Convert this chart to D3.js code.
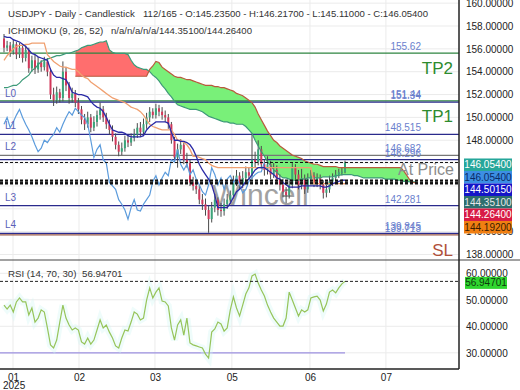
<!DOCTYPE html>
<html>
<head>
<meta charset="utf-8">
<script src="https://cdn.jsdelivr.net/npm/d3@7"></script>
<style>
  body { margin: 0; background: #fff; }
  svg { display: block; font-family: "Liberation Sans", Arial, sans-serif; }
</style>
</head>
<body>
<div id="chart"></div>
<script>
// ---- data ----
const opens = [156.9,156.1,156.3,155.7,156.4,155.5,156.1,155.2,155.9,154.3,
  155.0,154.2,154.8,154.4,154.9,154.0,152.0,151.5,152.2,151.7,
  154.0,152.8,151.7,152.1,151.3,150.7,149.8,149.4,150.0,149.1,
  149.6,150.2,150.7,150.0,149.4,148.9,148.3,147.6,147.0,147.3,
  148.0,147.8,148.2,148.5,149.1,148.7,149.4,150.0,150.5,150.2,
  150.8,150.5,150.2,150.0,149.4,148.0,146.5,147.2,147.6,146.3,
  146.0,144.3,144.0,143.7,142.8,142.4,141.9,141.1,142.1,142.8,
  141.9,141.8,142.4,142.8,143.2,144.4,144.9,144.1,144.7,145.2,
  144.9,146.3,146.1,147.2,145.9,145.4,145.9,145.0,145.4,144.6,
  144.1,143.5,143.2,144.1,145.6,145.0,144.1,144.7,143.7,144.6,
  144.9,144.3,144.7,144.1,143.4,143.7,144.4,144.7,145.0,145.2,
  145.235];
const highs = [157.3,156.7,156.6,156.8,156.6,156.5,156.4,156.3,156.1,155.4,
  155.5,155.3,155.0,155.3,155.2,154.3,152.6,152.7,152.5,154.9,
  154.4,153.1,152.6,152.4,151.7,151.0,150.3,150.5,150.3,150.1,
  150.6,151.3,151.0,150.4,149.8,149.3,148.6,147.9,147.8,148.4,
  148.5,148.6,149.0,149.5,149.6,149.9,150.4,150.9,150.8,151.2,
  151.1,150.9,150.6,150.3,149.6,148.3,147.7,148.1,147.9,146.9,
  146.3,144.8,144.6,144.1,143.3,142.9,142.3,142.6,143.3,143.0,
  142.5,142.9,143.3,143.6,144.9,145.4,145.2,145.3,145.7,145.6,
  148.6,147.0,148.0,147.5,146.3,146.6,146.2,146.0,145.8,145.0,
  144.6,143.9,144.5,146.0,145.9,145.4,145.5,145.0,145.1,145.4,
  145.2,145.1,145.0,144.5,144.1,144.9,145.1,145.4,145.5,145.6,
  146.217];
const lows = [155.7,155.8,155.3,155.5,155.1,155.2,154.8,154.9,153.9,154.0,
  153.8,153.9,154.0,154.1,153.6,151.6,151.0,151.2,151.3,151.4,
  152.3,151.2,151.3,150.9,150.3,149.4,148.9,149.1,148.7,148.8,
  149.2,149.8,149.6,149.0,148.5,147.9,147.2,146.6,146.7,147.0,
  147.4,147.5,147.9,148.2,148.3,148.4,149.0,149.6,149.9,149.9,
  150.1,149.8,149.6,149.0,147.7,146.2,145.6,146.8,145.9,145.6,
  144.0,143.6,143.3,142.4,141.9,141.4,139.9,140.8,141.7,141.4,
  141.3,141.4,142.0,142.4,142.9,144.0,143.7,143.8,144.3,144.5,
  144.6,145.6,145.8,145.5,144.9,145.0,144.6,144.7,144.2,143.6,
  143.0,142.5,142.9,143.8,144.6,143.7,143.7,143.3,143.4,144.2,
  143.9,143.9,143.7,142.9,143.0,143.4,144.0,144.4,144.7,144.9,
  145.11];
const closes = [156.1,156.3,155.7,156.4,155.5,156.1,155.2,155.9,154.3,155.0,
  154.2,154.8,154.4,154.9,154.0,152.0,151.5,152.2,151.7,154.0,
  152.8,151.7,152.1,151.3,150.7,149.8,149.4,150.0,149.1,149.6,
  150.2,150.7,150.0,149.4,148.9,148.3,147.6,147.0,147.3,148.0,
  147.8,148.2,148.5,149.1,148.7,149.4,150.0,150.5,150.2,150.8,
  150.5,150.2,150.0,149.4,148.0,146.5,147.2,147.6,146.3,146.0,
  144.3,144.0,143.7,142.8,142.4,141.9,141.1,142.1,142.8,141.9,
  141.8,142.4,142.8,143.2,144.4,144.9,144.1,144.7,145.2,144.9,
  146.3,146.1,147.2,145.9,145.4,145.9,145.0,145.4,144.6,144.1,
  143.5,143.2,144.1,145.6,145.0,144.1,144.7,143.7,144.6,144.9,
  144.3,144.7,144.1,143.4,143.7,144.4,144.7,145.0,145.2,145.24,
  146.054];

const tenkan = [157.1,157.0,157.0,156.8,156.7,156.6,156.4,156.2,155.9,155.6,
  155.5,155.3,155.2,155.1,155.0,154.2,153.7,153.5,153.5,153.4,
  153.3,152.8,152.2,152.1,152.0,152.0,151.9,151.8,151.4,151.1,
  150.9,150.8,150.5,150.0,149.4,148.9,148.8,148.7,148.7,148.6,
  148.4,148.3,148.3,148.3,148.3,148.4,148.9,149.2,149.4,149.6,
  149.6,149.6,149.6,149.5,148.7,148.0,148.0,147.9,147.9,147.8,
  147.6,147.2,146.6,145.9,145.4,145.0,144.6,144.1,143.2,142.1,
  142.1,142.1,142.1,142.5,143.0,143.5,143.7,144.0,144.4,144.6,
  145.0,145.4,145.6,145.6,145.6,145.4,145.2,145.0,144.7,144.6,
  144.3,144.1,143.9,143.9,143.9,143.9,144.0,144.0,144.0,144.0,
  144.0,144.0,144.0,143.9,143.9,144.0,144.2,144.3,144.4,144.5,
  144.5015];
const kijun = [155.0,155.4,155.7,156.0,156.2,156.3,156.3,156.4,156.4,156.5,
  156.5,156.5,156.5,156.5,155.5,155.2,154.9,154.7,154.5,154.4,
  154.4,154.3,154.2,154.2,154.0,153.7,153.5,153.4,153.1,152.9,
  152.7,152.5,152.3,152.1,151.9,151.7,151.6,151.5,151.4,151.3,
  151.1,150.9,150.8,150.7,150.5,150.2,149.8,149.4,149.2,149.1,
  149.0,148.9,148.9,148.9,148.9,148.5,148.0,148.0,147.8,147.6,
  147.2,146.6,146.6,146.5,146.4,146.3,146.0,145.8,145.7,145.6,
  145.6,145.6,145.6,145.6,145.6,145.6,145.6,145.6,145.6,145.6,
  145.6,145.6,145.6,145.6,145.6,145.6,145.6,145.6,145.6,145.6,
  145.6,145.6,145.6,145.6,145.6,145.6,145.6,145.6,145.6,145.6,
  144.2,144.2,144.2,144.2,144.2,144.2,144.2,144.2,144.2,144.2,
  144.192];
const spanA = [152.6,152.6,152.7,152.8,152.8,153.0,153.3,153.5,153.7,154.1,
  154.3,154.6,154.9,155.0,155.1,155.2,155.3,155.4,155.4,155.5,
  155.6,155.6,155.7,155.8,155.9,156.1,156.2,156.3,156.3,156.4,
  156.5,156.6,156.6,156.7,155.9,155.7,155.6,155.6,155.6,155.6,
  155.5,155.0,154.6,154.4,154.3,154.2,154.2,154.0,153.7,153.5,
  153.2,152.8,152.5,152.1,151.8,151.4,151.1,151.0,150.9,150.8,
  150.7,150.7,150.7,150.6,150.5,150.3,150.1,150.0,149.9,149.8,
  149.7,149.6,149.6,149.5,149.5,149.4,149.4,149.4,149.2,148.9,
  148.6,148.0,147.5,147.0,146.6,146.1,145.8,145.4,145.2,144.9,
  144.7,144.7,144.6,144.5,144.5,144.5,144.6,144.6,144.7,144.7,
  144.7,144.7,144.7,144.8,144.8,144.8,144.8,144.9,144.9,145.0,
  145.0,145.0,145.0,144.9,144.9,144.8,144.7,144.7,144.7,144.7,
  144.7,144.7,144.7,144.6,144.6,144.6,144.6,144.5,144.5,144.4,
  144.4,144.35,144.35,144.351];
const spanBStart = 23;
const spanB = [153.6,153.6,153.6,153.6,153.6,153.6,153.6,153.6,153.6,153.6,
  153.6,153.6,153.6,153.6,153.6,153.6,153.6,153.6,153.6,153.6,
  153.6,153.6,153.6,153.6,
  154.2,154.5,154.9,154.8,154.4,154.2,154.0,153.8,153.6,153.5,
  153.5,153.4,153.3,153.3,153.2,153.1,153.0,152.9,152.8,152.8,
  152.8,152.7,152.7,152.6,152.6,152.5,152.4,152.3,152.1,152.0,
  151.9,151.7,151.5,151.3,150.9,150.3,149.8,149.3,148.8,148.4,
  148.0,147.8,147.5,147.3,147.1,146.9,146.7,146.6,146.5,146.4,
  146.2,146.1,146.0,145.9,145.9,145.8,
  145.7,145.7,145.7,145.7,145.7,145.6,145.6,145.6,145.6,145.6,
  145.6,145.6,145.6,145.6,145.6,145.6,145.6,145.6,145.6,145.6,
  145.6,145.6,145.6,145.6,145.6,145.6,
  145.3,144.9,144.5,144.3,144.264];
const chikouShift = 26;

const rsi = [48.0,46.5,48.0,45.4,49.2,50.7,49.2,49.2,44.3,46.9,
  41.6,43.1,46.2,45.4,39.4,33.0,31.8,34.8,41.6,48.0,
  43.1,40.5,38.6,39.4,38.6,34.1,33.3,35.6,33.3,34.8,
  38.6,42.4,39.4,40.5,37.8,35.6,32.6,31.8,35.6,38.6,
  38.2,41.6,45.4,44.6,42.4,43.1,49.9,54.5,50.7,52.9,
  54.5,49.5,49.2,47.7,39.4,34.8,40.5,42.4,36.7,43.1,
  33.7,33.0,32.6,32.2,31.8,29.5,28.0,37.8,39.0,41.6,
  40.9,38.2,39.4,46.2,51.1,46.9,43.9,48.0,52.2,54.5,
  59.0,59.7,56.3,53.7,51.4,48.0,45.4,43.1,41.6,40.1,
  40.1,43.1,52.9,49.9,46.9,43.9,46.2,45.4,46.2,50.7,
  51.1,51.4,49.9,45.8,48.4,52.9,53.7,52.6,54.5,56.0,
  56.947];

const priceTicks = [160,158,156,154,152,150,148,146,144,142,140,138];
const rsiTicks = [60,50,40,30,20];
const monthTicks = [2.9,24.2,48.7,73.5,98.7,123.2];
const monthLabels = ["01","02","03","05","06","07"];

const levelValues = [155.62,151.44,151.34,148.515,146.682,146.296,142.281,139.845,139.713];
const levelTexts  = ["155.62","151.44","151.34","148.515","146.682","146.296","142.281","139.845","139.713"];
const levelKinds  = ["tp","tp","l","l","g","l","l","l","sl"];
const levelTags   = ["TP2","TP1","L0","L1","L2","","L3","L4","SL"];

const boxValues = [146.054,146.054,144.5015,144.351,144.264,144.192];
const rsiNow = 56.94701;

// ---- layout ----
const W = 520, H = 390, plotR = 459, mainB = 260, rsiB = 369;
const svg = d3.select('#chart').append('svg').attr('width', W).attr('height', H);

const x = d3.scaleLinear().domain([0, 110]).range([4, 345]);
const y = d3.scaleLinear().domain([138, 158]).range([254.5, 26]);
const yR = d3.scaleLinear().domain([30, 60]).range([352.8, 273.3]);

const defs = svg.append('defs');
defs.append('clipPath').attr('id', 'clipMain').append('rect').attr('x', 0).attr('y', 0).attr('width', plotR).attr('height', mainB);
defs.append('clipPath').attr('id', 'clipRsi').append('rect').attr('x', 0).attr('y', mainB).attr('width', plotR).attr('height', rsiB - mainB);
defs.append('clipPath').attr('id', 'clipRsiAxis').append('rect').attr('x', plotR).attr('y', mainB).attr('width', W - plotR).attr('height', rsiB - mainB + 1);

// grid
const grid = svg.append('g').attr('stroke', '#ebebeb').attr('stroke-width', 1);
grid.selectAll('.vg').data(monthTicks).enter().append('line')
  .attr('x1', d => x(d)).attr('x2', d => x(d)).attr('y1', 0).attr('y2', rsiB);
grid.selectAll('.hg').data(priceTicks).enter().append('line')
  .attr('x1', 0).attr('x2', plotR).attr('y1', d => y(d)).attr('y2', d => y(d));
grid.selectAll('.rg').data(rsiTicks.filter(d => d >= 30)).enter().append('line')
  .attr('x1', 0).attr('x2', plotR).attr('y1', d => yR(d)).attr('y2', d => yR(d));

const main = svg.append('g').attr('clip-path', 'url(#clipMain)');

// watermark
main.append('text').attr('x', 212).attr('y', 205).attr('font-size', 30)
  .attr('fill', '#8a8a8a').attr('opacity', 0.8).text('Wincell');

// cloud
const cloudIdx = d3.range(spanBStart, spanA.length);
const a = i => y(spanA[i]);
const b = i => y(spanB[i - spanBStart]);
defs.append('clipPath').attr('id', 'belowA').append('path')
  .attr('d', d3.area().x(i => x(i)).y0(mainB).y1(a)(cloudIdx));
defs.append('clipPath').attr('id', 'aboveA').append('path')
  .attr('d', d3.area().x(i => x(i)).y0(0).y1(a)(cloudIdx));
const band = d3.area().x(i => x(i)).y0(a).y1(b);
main.append('path').attr('d', band(cloudIdx)).attr('fill', '#ff6e6e').attr('clip-path', 'url(#belowA)');
main.append('path').attr('d', band(cloudIdx)).attr('fill', '#79f079').attr('clip-path', 'url(#aboveA)');

// level lines
const levelColor = { tp: '#2e8540', l: '#2a2a8c', g: '#777', sl: '#9a5a48' };
main.selectAll('.lvl').data(levelValues).enter().append('line')
  .attr('x1', 0).attr('x2', plotR)
  .attr('y1', d => y(d)).attr('y2', d => y(d))
  .attr('stroke', (d, i) => levelColor[levelKinds[i]]).attr('stroke-width', 1.2);

// candles
const idx = d3.range(closes.length);
main.selectAll('.wick').data(idx).enter().append('line')
  .attr('x1', i => x(i)).attr('x2', i => x(i))
  .attr('y1', i => y(highs[i])).attr('y2', i => y(lows[i]))
  .attr('stroke', '#4a4a4a').attr('stroke-width', 1);
main.selectAll('.body').data(idx).enter().append('rect')
  .attr('x', i => x(i) - 1).attr('width', 2)
  .attr('y', i => y(Math.max(opens[i], closes[i])))
  .attr('height', i => Math.max(1, Math.abs(y(opens[i]) - y(closes[i]))))
  .attr('fill', i => closes[i] >= opens[i] ? '#3aa57a' : '#d2385a');

// ichimoku lines
const line = d3.line().x(d => x(d[0])).y(d => y(d[1]));
const chikou = closes.slice(chikouShift).map((c, k) => [k, c]);
main.append('path').attr('d', line(chikou)).attr('fill', 'none').attr('stroke', '#5b9bdc').attr('stroke-width', 1.2);
main.append('path').attr('d', line(spanA.map((v, i) => [i, v]))).attr('fill', 'none').attr('stroke', '#3c9a78').attr('stroke-width', 1.2);
main.append('path').attr('d', line(spanB.map((v, k) => [k + spanBStart, v]))).attr('fill', 'none').attr('stroke', '#b85a3c').attr('stroke-width', 1.2);
main.append('path').attr('d', line(kijun.map((v, i) => [i, v]))).attr('fill', 'none').attr('stroke', '#f0a070').attr('stroke-width', 1.3);
main.append('path').attr('d', line(tenkan.map((v, i) => [i, v]))).attr('fill', 'none').attr('stroke', '#2a2aa6').attr('stroke-width', 1.3);

// current price dotted lines
main.selectAll('.cur').data(boxValues.slice(1)).enter().append('line')
  .attr('x1', 0).attr('x2', plotR).attr('y1', d => y(d)).attr('y2', d => y(d))
  .attr('stroke', '#111').attr('stroke-width', (d, i) => i === 0 ? 1 : 1.6)
  .attr('stroke-dasharray', '3,2');

// level labels
main.selectAll('.lvlv').data(levelValues).enter().append('text')
  .attr('x', 421).attr('y', d => y(d) - 3).attr('text-anchor', 'end')
  .attr('font-size', 10).attr('fill', '#6a7fce').text((d, i) => levelTexts[i]);
main.selectAll('.ltag').data(levelValues.filter((d, i) => levelKinds[i] !== 'tp' && levelKinds[i] !== 'sl' && levelTags[i]))
  .enter().append('text')
  .attr('x', 5).attr('y', d => y(d) - 5).attr('font-size', 10).attr('fill', '#5b5fb8')
  .text(d => levelTags[levelValues.indexOf(d)]);
main.selectAll('.big').data(levelValues.filter((d, i) => levelKinds[i] === 'tp' || levelKinds[i] === 'sl'))
  .enter().append('text')
  .attr('x', 453).attr('y', d => y(d) + 21).attr('text-anchor', 'end').attr('font-size', 17)
  .attr('fill', d => levelKinds[levelValues.indexOf(d)] === 'sl' ? '#b0503a' : '#2e8b2e')
  .text(d => levelTags[levelValues.indexOf(d)]);
main.append('text').attr('x', 454).attr('y', 175).attr('text-anchor', 'end')
  .attr('font-size', 16).attr('fill', '#8c8c8c').text('At Price');

// RSI panel
const rsiG = svg.append('g').attr('clip-path', 'url(#clipRsi)');
rsiG.append('line').attr('x1', 0).attr('x2', x(rsi.length - 1)).attr('y1', yR(30)).attr('y2', yR(30))
  .attr('stroke', '#9c90e0').attr('stroke-width', 1.3);
const rline = d3.line().x((d, i) => x(i)).y(d => yR(d));
rsiG.append('path').attr('d', rline(rsi)).attr('fill', 'none').attr('stroke', '#d2f6f4').attr('stroke-width', 7).attr('opacity', 0.35);
rsiG.append('path').attr('d', rline(rsi)).attr('fill', 'none').attr('stroke', '#96c45a').attr('stroke-width', 1.2);
rsiG.append('line').attr('x1', 0).attr('x2', plotR).attr('y1', yR(rsiNow)).attr('y2', yR(rsiNow))
  .attr('stroke', '#222').attr('stroke-dasharray', '3,2');

// frame
svg.append('line').attr('x1', 0).attr('x2', W).attr('y1', mainB).attr('y2', mainB).attr('stroke', '#444');
svg.append('line').attr('x1', 0).attr('x2', plotR).attr('y1', rsiB).attr('y2', rsiB).attr('stroke', '#222').attr('stroke-width', 1.5);
svg.append('line').attr('x1', plotR).attr('x2', plotR).attr('y1', 0).attr('y2', rsiB).attr('stroke', '#222').attr('stroke-width', 1.5);

// axes (labels hidden under the value boxes are left out)
const fmt = d3.format('.5f');
const boxTopY = y(boxValues[0]) - 4, boxBotY = boxTopY + boxValues.length * 12.5;
const shownTicks = priceTicks.filter(p => y(p) < boxTopY - 4 || y(p) > boxBotY - 5);
const ax = svg.append('g').attr('transform', `translate(${plotR},0)`)
  .call(d3.axisRight(y).tickValues(shownTicks).tickFormat(fmt).tickSize(0).tickPadding(7));
ax.select('.domain').remove();
ax.selectAll('text').attr('font-size', 10).attr('fill', '#222').attr('font-family', '"Liberation Sans", Arial, sans-serif');
const axr = svg.append('g').attr('clip-path', 'url(#clipRsiAxis)').append('g').attr('transform', `translate(${plotR},0)`)
  .call(d3.axisRight(yR).tickValues(rsiTicks).tickFormat(fmt).tickSize(0).tickPadding(7));
axr.select('.domain').remove();
axr.selectAll('text').attr('font-size', 10).attr('fill', '#222').attr('font-family', '"Liberation Sans", Arial, sans-serif');

const axx = svg.append('g').attr('transform', `translate(0,${rsiB})`)
  .call(d3.axisBottom(x).tickValues(monthTicks).tickFormat((d, i) => monthLabels[i]).tickSize(0).tickPadding(5));
axx.select('.domain').remove();
axx.selectAll('text').attr('font-size', 10).attr('fill', '#222').attr('font-family', '"Liberation Sans", Arial, sans-serif');
svg.append('text').attr('x', 3).attr('y', 389).attr('font-size', 10).attr('fill', '#222').text('2025');

// value boxes on the price axis
const boxFill = ['#26a69a', '#3c8fe4', '#1414c8', '#2e6e6e', '#d81b45', '#f07f12'];
const boxText = ['#fff', '#0b2a66', '#fff', '#e8e8e8', '#fff', '#3a1c00'];
boxValues.forEach((v, i) => {
  const top = boxTopY + i * 12.5;
  svg.append('rect').attr('x', 464).attr('y', top).attr('width', 48).attr('height', 12.5).attr('fill', boxFill[i]);
  svg.append('text').attr('x', 488).attr('y', top + 10).attr('text-anchor', 'middle')
    .attr('font-size', 10).attr('fill', boxText[i]).text(fmt(v));
});
svg.append('rect').attr('x', 465).attr('y', yR(rsiNow) - 4.5).attr('width', 42).attr('height', 12).attr('fill', '#2fd62f');
svg.append('text').attr('x', 486).attr('y', yR(rsiNow) + 5).attr('text-anchor', 'middle')
  .attr('font-size', 10).attr('fill', '#0d3a0d').text(fmt(rsiNow));

// header texts
const head = svg.append('g').attr('font-size', 9.7).attr('fill', '#333');
head.append('text').attr('x', 8).attr('y', 17).text('USDJPY - Daily - Candlestick');
head.append('text').attr('x', 143).attr('y', 17).attr('textLength', 285).attr('lengthAdjust', 'spacingAndGlyphs')
  .text('112/165 - O:145.23500 - H:146.21700 - L:145.11000 - C:146.05400');
head.append('text').attr('x', 8).attr('y', 34).text('ICHIMOKU (9, 26, 52)');
head.append('text').attr('x', 111).attr('y', 34).attr('textLength', 141).attr('lengthAdjust', 'spacingAndGlyphs')
  .text('n/a/n/a/n/a/144.35100/144.26400');
head.append('text').attr('x', 8).attr('y', 277).text('RSI (14, 70, 30)');
head.append('text').attr('x', 82).attr('y', 277).text('56.94701');
</script>
</body>
</html>
